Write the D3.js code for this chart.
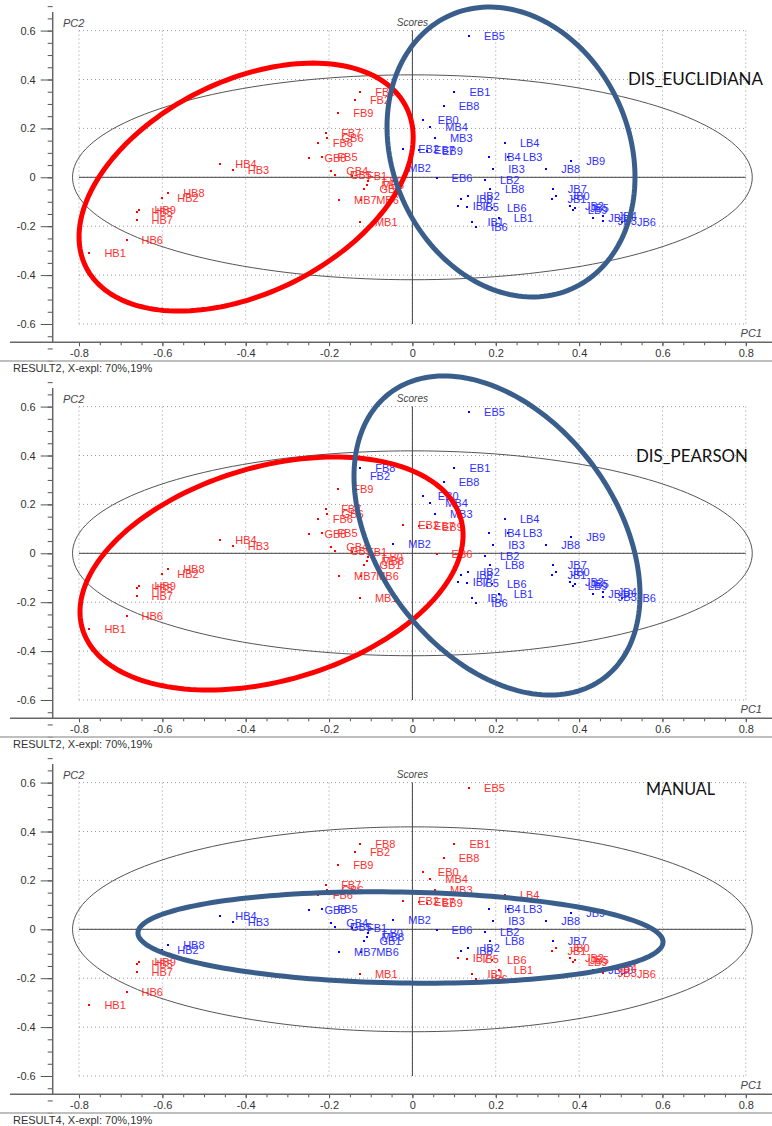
<!DOCTYPE html>
<html>
<head>
<meta charset="utf-8">
<script src="https://cdn.jsdelivr.net/npm/d3@7"></script>
<style>
  html, body { margin: 0; padding: 0; background: #fff; }
  svg { display: block; }
</style>
</head>
<body>
<svg id="chart" width="772" height="1126"></svg>
<script>
// Sample scores on the first two principal components
const sampleNames = [
  "EB5","EB1","EB8","EB0","MB4","MB3","EB2","EB7","EB9","MB2","EB6",
  "LB4","IB4","LB3","IB3","JB8","JB9","LB2","LB8","IB2","IB8","IB7","IB5",
  "LB6","LB1","IB1","IB6","JB7","JB0","JB1","JB2","JB5","LB9","JB10","JB4","JB3","JB6",
  "FB8","FB2","FB9","FB7","GB6","FB6","GB8","FB5","GB4","GB5","FB1","FB0","MB8","GB1",
  "MB7","MB6","MB1","HB4","HB3","HB8","HB2","HB9","HB5","HB7","HB6","HB1"
];
const pc1 = [
  0.136, 0.101, 0.075, 0.025, 0.043, 0.054, -0.022, 0.016, 0.035, -0.046, 0.058,
  0.222, 0.184, 0.229, 0.194, 0.321, 0.381, 0.174, 0.186, 0.134, 0.117, 0.109, 0.132,
  0.191, 0.207, 0.144, 0.153, 0.337, 0.344, 0.336, 0.378, 0.390, 0.385, 0.434, 0.457, 0.457, 0.503,
  -0.125, -0.138, -0.178, -0.207, -0.206, -0.227, -0.247, -0.216, -0.195, -0.186, -0.145, -0.107, -0.110, -0.115,
  -0.176, -0.123, -0.126, -0.461, -0.431, -0.586, -0.600, -0.655, -0.662, -0.662, -0.686, -0.775
];
const pc2 = [
  0.577, 0.349, 0.293, 0.234, 0.204, 0.161, 0.116, 0.112, 0.109, 0.040, -0.002,
  0.139, 0.084, 0.084, 0.033, 0.033, 0.065, -0.012, -0.048, -0.076, -0.089, -0.117, -0.120,
  -0.126, -0.168, -0.183, -0.203, -0.048, -0.075, -0.089, -0.117, -0.127, -0.134, -0.168, -0.159, -0.179, -0.184,
  0.348, 0.316, 0.262, 0.182, 0.160, 0.139, 0.078, 0.082, 0.027, 0.009, 0.005, -0.015, -0.032, -0.048,
  -0.093, -0.093, -0.182, 0.056, 0.030, -0.065, -0.086, -0.134, -0.143, -0.175, -0.256, -0.310
];

// Cluster membership per method: "B" = blue class, "R" = red class
const classEuclid = [
  "B","B","B","B","B","B","B","B","B","B","B",
  "B","B","B","B","B","B","B","B","B","B","B","B",
  "B","B","B","B","B","B","B","B","B","B","B","B","B","B",
  "R","R","R","R","R","R","R","R","R","R","R","R","R","R",
  "R","R","R","R","R","R","R","R","R","R","R","R"
];
const classPearson = [
  "B","B","B","B","B","B","R","R","R","B","R",
  "B","B","B","B","B","B","B","B","B","B","B","B",
  "B","B","B","B","B","B","B","B","B","B","B","B","B","B",
  "B","B","R","R","R","R","R","R","R","R","R","R","R","R",
  "R","R","R","R","R","R","R","R","R","R","R","R"
];
const classManual = [
  "R","R","R","R","R","R","R","R","R","B","B",
  "R","B","B","B","B","B","B","B","B","B","R","R",
  "R","R","R","R","B","R","R","R","R","R","B","R","R","R",
  "R","R","R","R","R","R","B","B","B","B","B","B","B","B",
  "B","B","R","B","B","B","B","R","R","R","R","R"
];

// Axis ticks
const majorTicksX = [-0.8, -0.6, -0.4, -0.2, 0, 0.2, 0.4, 0.6, 0.8];
const majorTicksY = [-0.6, -0.4, -0.2, 0, 0.2, 0.4, 0.6];
const tickLabelsX = ["-0.8", "-0.6", "-0.4", "-0.2", "0", "0.2", "0.4", "0.6", "0.8"];
const tickLabelsY = ["-0.6", "-0.4", "-0.2", "0", "0.2", "0.4", "0.6"];

// Hotelling T2 limit ellipse (semi-axes in score units)
const limitEllipse = [0.8155, 0.419];

// Hand-drawn cluster outlines: [centre x, centre y, ux, uy, vx, vy] in score units
const outlinesEuclid = [
  { color: "#ff0000", shape: [-0.399, -0.040, 0.3845, 0.3264, 0.1135, -0.388] },
  { color: "#3a5e8c", shape: [0.2366, 0.1035, 0.1457, -0.5595, -0.2594, -0.1963] }
];
const outlinesPearson = [
  { color: "#ff0000", shape: [-0.338, -0.0826, 0.454, 0.225, 0.0717, -0.420] },
  { color: "#3a5e8c", shape: [0.203, 0.0728, 0.256, -0.584, -0.2285, -0.291] }
];
const outlinesManual = [
  { color: "#3a5e8c", shape: [-0.0286, -0.0335, 0.630, -0.019, -0.002, -0.186] }
];

const panels = [
  { title: "DIS_EUCLIDIANA", classes: classEuclid, outlines: outlinesEuclid, result: "RESULT2, X-expl: 70%,19%", titleX: 628, titleY: 85, titleW: 135 },
  { title: "DIS_PEARSON", classes: classPearson, outlines: outlinesPearson, result: "RESULT2, X-expl: 70%,19%", titleX: 636, titleY: 86, titleW: 112 },
  { title: "MANUAL", classes: classManual, outlines: outlinesManual, result: "RESULT4, X-expl: 70%,19%", titleX: 646, titleY: 43, titleW: 69 }
];

const PANEL_H = 376;
const svg = d3.select("#chart");
const x = d3.scaleLinear().domain([-0.8, 0.8]).range([79.0, 745.8]);
const y = d3.scaleLinear().domain([0.6, -0.6]).range([30.6, 324.0]);
const axisFont = "Liberation Sans, Arial, sans-serif";

const minorX = d3.range(-16, 17).map(i => i * 0.05).filter(v => v >= -0.86 && v <= 0.86);
const minorY = d3.range(-16, 17).map(i => i * 0.05).filter(v => v >= -0.76 && v <= 0.73);

function ellipsePath(shape) {
  const [cx, cy, ux, uy, vx, vy] = shape;
  const pts = d3.range(0, 361, 2).map(a => {
    const t = a * Math.PI / 180;
    return [x(cx + ux * Math.cos(t) + vx * Math.sin(t)), y(cy + uy * Math.cos(t) + vy * Math.sin(t))];
  });
  return d3.line().curve(d3.curveLinearClosed)(pts);
}

panels.forEach((p, pi) => {
  const g = svg.append("g").attr("transform", `translate(0,${pi * PANEL_H})`);

  // dotted grid
  g.append("g").selectAll("line.gx").data(majorTicksX).join("line")
    .attr("x1", d => x(d)).attr("x2", d => x(d))
    .attr("y1", y(0.6)).attr("y2", y(-0.6))
    .attr("stroke", "#9a9a9a").attr("stroke-width", 1).attr("stroke-dasharray", "1,3");
  g.append("g").selectAll("line.gy").data(majorTicksY).join("line")
    .attr("x1", x(-0.8)).attr("x2", x(0.8))
    .attr("y1", d => y(d)).attr("y2", d => y(d))
    .attr("stroke", "#9a9a9a").attr("stroke-width", 1).attr("stroke-dasharray", "1,3");

  // zero lines
  g.append("line").attr("x1", x(-0.8)).attr("x2", x(0.8)).attr("y1", y(0)).attr("y2", y(0))
    .attr("stroke", "#444").attr("stroke-width", 1);
  g.append("line").attr("x1", x(0)).attr("x2", x(0)).attr("y1", y(0.6)).attr("y2", y(-0.6))
    .attr("stroke", "#444").attr("stroke-width", 1);

  // confidence limit ellipse
  g.append("path")
    .attr("d", ellipsePath([0, 0, limitEllipse[0], 0, 0, limitEllipse[1]]))
    .attr("fill", "none").attr("stroke", "#555").attr("stroke-width", 1);

  // y axis
  const yAxis = d3.axisLeft(y).tickValues(majorTicksY).tickSize(12)
    .tickFormat((d, i) => tickLabelsY[i]).tickPadding(5);
  const ya = g.append("g").attr("transform", "translate(52.7,0)").call(yAxis);
  ya.select(".domain").remove();
  ya.selectAll(".tick line").attr("stroke", "#555");
  ya.selectAll(".tick text").attr("font-family", axisFont).attr("font-size", 11).attr("fill", "#333");
  const yMinor = d3.axisLeft(y).tickValues(minorY).tickSize(5).tickFormat("");
  const ym = g.append("g").attr("transform", "translate(52.7,0)").call(yMinor);
  ym.select(".domain").remove();
  ym.selectAll(".tick line").attr("stroke", "#555");
  g.append("line").attr("x1", 52.7).attr("x2", 52.7).attr("y1", 12).attr("y2", 342.3)
    .attr("stroke", "#666").attr("stroke-width", 1.5);

  // x axis
  const xAxis = d3.axisBottom(x).tickValues(majorTicksX).tickSize(4)
    .tickFormat((d, i) => tickLabelsX[i]).tickPadding(3);
  const xa = g.append("g").attr("transform", "translate(0,342.3)").call(xAxis);
  xa.select(".domain").remove();
  xa.selectAll(".tick line").attr("stroke", "#555");
  xa.selectAll(".tick text").attr("font-family", axisFont).attr("font-size", 11).attr("fill", "#333");
  const xMinor = d3.axisBottom(x).tickValues(minorX).tickSize(3).tickFormat("");
  const xm = g.append("g").attr("transform", "translate(0,342.3)").call(xMinor);
  xm.select(".domain").remove();
  xm.selectAll(".tick line").attr("stroke", "#555");
  g.append("line").attr("x1", 10).attr("x2", 772).attr("y1", 342.3).attr("y2", 342.3)
    .attr("stroke", "#666").attr("stroke-width", 1.5);

  // bottom separator and result caption
  g.append("line").attr("x1", 0).attr("x2", 772).attr("y1", 361).attr("y2", 361)
    .attr("stroke", "#aaa").attr("stroke-width", 1.5);
  g.append("text").attr("x", 13).attr("y", 372).text(p.result)
    .attr("font-family", axisFont).attr("font-size", 11).attr("fill", "#333");

  // axis captions
  g.append("text").attr("x", 63).attr("y", 27).text("PC2")
    .attr("font-family", axisFont).attr("font-size", 11).attr("font-style", "italic").attr("fill", "#444");
  g.append("text").attr("x", x(0)).attr("y", 26).attr("text-anchor", "middle").text("Scores")
    .attr("font-family", axisFont).attr("font-size", 10).attr("font-style", "italic").attr("fill", "#444");
  g.append("text").attr("x", 762).attr("y", 337).attr("text-anchor", "end").text("PC1")
    .attr("font-family", axisFont).attr("font-size", 11).attr("font-style", "italic").attr("fill", "#444");

  // sample points and labels
  const samples = sampleNames.map((n, i) => ({ name: n, px: pc1[i], py: pc2[i], cls: p.classes[i] }));
  const col = c => c === "R" ? "#ff0000" : "#0000ff";
  const txtCol = c => c === "R" ? "#ff3030" : "#3030ff";
  g.append("g").selectAll("rect").data(samples).join("rect")
    .attr("x", d => Math.round(x(d.px)) - 1).attr("y", d => Math.round(y(d.py)) - 1)
    .attr("width", 2).attr("height", 2).attr("fill", d => col(d.cls));
  g.append("g").selectAll("text").data(samples).join("text")
    .attr("x", d => x(d.px) + 15).attr("y", d => y(d.py) + 4)
    .text(d => d.name)
    .attr("font-family", axisFont).attr("font-size", 11).attr("fill", d => txtCol(d.cls));

  // method title
  g.append("text").attr("x", p.titleX).attr("y", p.titleY).text(p.title)
    .attr("font-family", "Lato, sans-serif").attr("font-size", 18).attr("fill", "#111")
    .attr("textLength", p.titleW).attr("lengthAdjust", "spacingAndGlyphs");

  // hand-drawn cluster outlines
  p.outlines.forEach(o => {
    g.append("path").attr("d", ellipsePath(o.shape))
      .attr("fill", "none").attr("stroke", o.color).attr("stroke-width", 5);
  });
});
</script>
</body>
</html>
